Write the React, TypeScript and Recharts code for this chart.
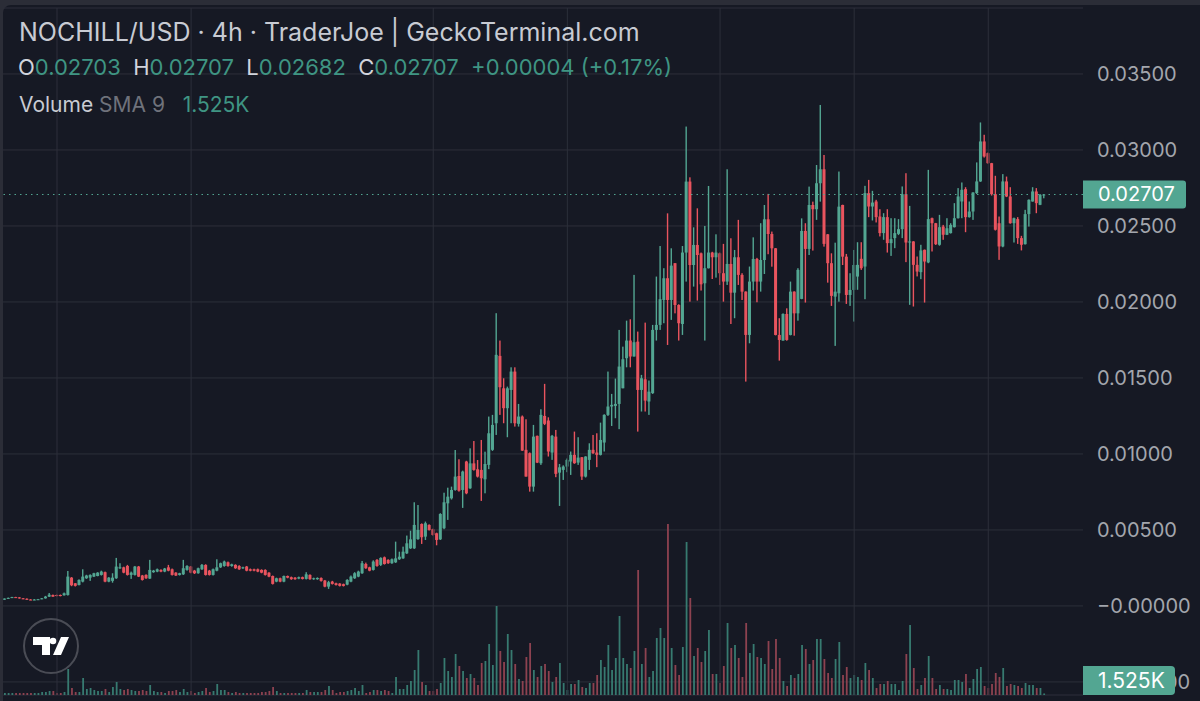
import { Bar, CartesianGrid, ComposedChart, ReferenceLine, XAxis, YAxis } from "recharts";

// prices are in units of 0.00001 USD, volumes in thousands
const opens = [
  42, 48, 53, 58, 56, 50, 47, 42, 40, 42,
  46, 50, 61, 72, 72, 72, 70, 72, 186, 149,
  138, 160, 182, 186, 193, 197, 204, 222, 160, 165,
  182, 248, 254, 263, 204, 204, 259, 200, 204, 180,
  222, 226, 237, 226, 254, 241, 219, 204, 208, 237,
  259, 232, 215, 241, 270, 232, 204, 232, 254, 263,
  287, 263, 270, 263, 248, 259, 241, 241, 241, 237,
  237, 219, 197, 160, 182, 160, 197, 189, 186, 180,
  189, 178, 204, 176, 176, 184, 167, 127, 160, 149,
  147, 143, 140, 160, 182, 193, 215, 276, 254, 237,
  303, 270, 320, 303, 281, 287, 307, 313, 346, 379,
  379, 440, 539, 456, 533, 504, 478, 438, 511, 675,
  708, 763, 855, 763, 950, 774, 938, 899, 895, 833,
  928, 1027, 1202, 1645, 1432, 1301, 1421, 1542, 1198, 1246,
  1027, 1005, 785, 1119, 939, 1250, 1220, 1009, 1114, 877,
  895, 917, 950, 994, 943, 978, 851, 961, 1027, 1009,
  994, 1075, 1257, 1312, 1316, 1329, 1432, 1630, 1746, 1641,
  1739, 1421, 1491, 1345, 1400, 1816, 1849, 2013, 2156, 2013,
  2255, 1980, 1855, 2325, 2792, 2243, 2375, 2320, 2123, 2222,
  2325, 2294, 2320, 2189, 2134, 2250, 2061, 2294, 2178, 2068,
  1783, 2134, 2283, 2134, 2276, 2544, 2447, 2353, 1783, 1746,
  1921, 1783, 2068, 1925, 2020, 2467, 2349, 2638, 2610, 2781,
  2873, 2445, 2255, 2035, 2057, 2638, 2298, 2046, 2079, 2167,
  2284, 2233, 2716, 2628, 2661, 2562, 2453, 2558, 2387, 2420,
  2448, 2479, 2709, 2391, 2398, 2244, 2196, 2343, 2260, 2551,
  2518, 2376, 2496, 2442, 2453, 2492, 2551, 2661, 2742, 2558,
  2595, 2716, 2793, 3056, 2979, 2913, 2709, 2518, 2365, 2793,
  2694, 2518, 2545, 2420, 2380, 2578, 2661, 2727, 2639, 2703,
];

const highs = [
  50, 55, 60, 60, 58, 52, 50, 45, 45, 46,
  52, 66, 85, 75, 75, 75, 88, 230, 190, 150,
  175, 241, 205, 208, 218, 222, 232, 226, 190, 215,
  316, 281, 258, 270, 226, 263, 263, 204, 208, 303,
  237, 246, 241, 250, 270, 246, 222, 218, 303, 268,
  263, 237, 252, 276, 274, 237, 246, 307, 285, 298,
  292, 278, 274, 268, 258, 263, 246, 245, 246, 241,
  241, 222, 200, 186, 186, 200, 200, 193, 190, 193,
  193, 222, 208, 186, 188, 188, 171, 165, 165, 153,
  150, 147, 176, 200, 222, 232, 296, 285, 258, 300,
  308, 320, 325, 307, 312, 423, 357, 390, 463, 495,
  682, 664, 543, 555, 537, 508, 482, 610, 745, 778,
  785, 1026, 965, 890, 955, 1037, 1085, 960, 1092, 1015,
  1246, 1257, 1926, 1746, 1498, 1443, 1570, 1570, 1329, 1253,
  1228, 1010, 1191, 1121, 1294, 1461, 1241, 1125, 1158, 934,
  925, 970, 1016, 1147, 1110, 980, 985, 1070, 1125, 1136,
  1206, 1261, 1542, 1395, 1496, 1816, 1706, 1877, 1886, 2178,
  1805, 1520, 1864, 1483, 1849, 2167, 2368, 2222, 2583, 2353,
  2255, 1985, 2368, 3154, 2820, 2491, 2616, 2325, 2500, 2763,
  2330, 2445, 2325, 2382, 2873, 2419, 2342, 2540, 2189, 2070,
  2233, 2425, 2290, 2518, 2638, 2711, 2463, 2355, 1893, 1925,
  1958, 2134, 2070, 2222, 2550, 2518, 2759, 2660, 2901, 3296,
  2967, 2447, 2320, 2390, 2858, 2640, 2316, 2189, 2342, 2393,
  2393, 2764, 2803, 2731, 2672, 2610, 2584, 2610, 2551, 2551,
  2545, 2760, 2847, 2632, 2400, 2299, 2376, 2345, 2869, 2555,
  2520, 2573, 2507, 2551, 2518, 2650, 2749, 2786, 2755, 2661,
  2722, 2918, 3181, 3100, 2983, 2915, 2830, 2562, 2841, 2825,
  2755, 2555, 2558, 2435, 2606, 2675, 2755, 2749, 2710, 2707,
];

const lows = [
  40, 46, 52, 55, 48, 45, 40, 38, 38, 40,
  44, 48, 59, 60, 63, 63, 68, 68, 130, 128,
  135, 155, 178, 165, 190, 195, 200, 156, 156, 153,
  178, 244, 215, 200, 178, 200, 190, 167, 178, 178,
  218, 222, 222, 222, 228, 200, 197, 200, 204, 232,
  215, 210, 212, 237, 200, 200, 200, 228, 250, 258,
  258, 258, 244, 237, 244, 228, 228, 228, 222, 215,
  200, 189, 141, 156, 156, 156, 182, 172, 172, 176,
  174, 174, 172, 172, 172, 160, 123, 112, 141, 134,
  128, 128, 136, 156, 178, 189, 211, 244, 228, 233,
  258, 263, 272, 277, 277, 283, 303, 310, 342, 375,
  375, 435, 408, 434, 496, 463, 399, 434, 505, 566,
  700, 758, 752, 645, 735, 770, 890, 845, 691, 741,
  900, 1020, 1125, 1257, 1202, 1110, 1202, 1180, 1180, 1020,
  851, 752, 752, 940, 928, 1190, 983, 961, 847, 658,
  829, 880, 862, 935, 928, 829, 845, 895, 1000, 913,
  990, 1016, 1250, 1184, 1235, 1163, 1432, 1570, 1570, 1641,
  1147, 1279, 1279, 1257, 1395, 1746, 1816, 1860, 1717, 1882,
  1925, 1746, 1783, 2134, 2002, 2101, 2009, 2075, 1746, 2220,
  2151, 2160, 2112, 2002, 2112, 1855, 1893, 2112, 2013, 1476,
  1728, 2075, 1998, 2068, 2184, 2314, 2232, 1780, 1614, 1745,
  1745, 1780, 1778, 1877, 2018, 1996, 2309, 2338, 2540, 2660,
  2364, 2127, 1974, 1711, 2002, 2243, 1987, 1974, 1871, 2080,
  2211, 2018, 2558, 2536, 2523, 2431, 2409, 2325, 2303, 2354,
  2440, 2420, 2262, 1981, 1970, 2168, 2150, 1996, 2255, 2332,
  2375, 2370, 2409, 2440, 2450, 2490, 2549, 2551, 2459, 2555,
  2540, 2710, 2790, 2950, 2910, 2700, 2470, 2277, 2360, 2690,
  2515, 2391, 2382, 2339, 2378, 2496, 2660, 2584, 2637, 2682,
];

const closes = [
  48, 53, 58, 56, 50, 47, 42, 40, 42, 44,
  50, 61, 74, 61, 65, 65, 83, 193, 136, 132,
  171, 193, 200, 204, 215, 219, 226, 160, 186, 186,
  259, 254, 219, 204, 219, 259, 193, 171, 182, 237,
  232, 241, 226, 246, 232, 204, 200, 215, 248, 263,
  219, 215, 248, 270, 204, 204, 241, 254, 281, 292,
  263, 274, 248, 241, 254, 232, 232, 232, 226, 219,
  204, 193, 145, 182, 160, 197, 186, 176, 176, 189,
  178, 208, 176, 182, 184, 165, 127, 156, 145, 138,
  132, 132, 171, 193, 215, 226, 281, 248, 232, 292,
  263, 316, 276, 281, 307, 313, 324, 357, 412, 438,
  533, 500, 452, 544, 500, 467, 434, 605, 682, 719,
  763, 851, 758, 884, 741, 938, 895, 851, 840, 934,
  1136, 1191, 1652, 1439, 1301, 1432, 1542, 1202, 1246, 1022,
  851, 785, 1114, 943, 1257, 1198, 1016, 1119, 869, 912,
  917, 961, 994, 939, 976, 851, 983, 1027, 1005, 994,
  1092, 1257, 1312, 1323, 1329, 1575, 1623, 1746, 1641, 1735,
  1421, 1498, 1351, 1410, 1816, 1849, 2018, 2156, 2013, 2239,
  1980, 1860, 2325, 2792, 2243, 2375, 2309, 2116, 2222, 2325,
  2294, 2325, 2189, 2134, 2250, 2061, 2294, 2178, 2068, 1783,
  2134, 2283, 2134, 2276, 2544, 2447, 2353, 1783, 1750, 1921,
  1750, 2068, 1925, 2211, 2467, 2349, 2638, 2610, 2781, 2873,
  2382, 2255, 2040, 2068, 2627, 2298, 2046, 2079, 2243, 2244,
  2222, 2716, 2628, 2654, 2558, 2453, 2558, 2387, 2413, 2453,
  2479, 2709, 2391, 2398, 2244, 2200, 2339, 2266, 2545, 2518,
  2380, 2492, 2442, 2485, 2507, 2551, 2694, 2738, 2558, 2595,
  2720, 2793, 3056, 2957, 2913, 2709, 2475, 2365, 2793, 2694,
  2518, 2551, 2420, 2376, 2578, 2672, 2727, 2650, 2705, 2707,
];

const volumes = [
  2, 2, 2, 2, 2, 2, 2, 2, 2, 2,
  3, 3, 4, 4, 2, 2, 3, 26, 7, 3,
  3, 17, 6, 7, 5, 4, 4, 6, 3, 8,
  13, 6, 5, 6, 5, 4, 4, 5, 4, 10,
  4, 3, 3, 2, 4, 4, 5, 3, 6, 3,
  4, 2, 3, 4, 7, 3, 4, 11, 5, 5,
  3, 2, 3, 2, 2, 2, 2, 2, 2, 3,
  3, 4, 8, 4, 2, 2, 2, 2, 2, 2,
  2, 5, 3, 3, 3, 3, 5, 9, 5, 2,
  3, 3, 4, 5, 7, 4, 10, 2, 3, 5,
  5, 4, 5, 4, 2, 18, 6, 6, 10, 14,
  25, 45, 13, 10, 4, 4, 6, 12, 37, 24,
  18, 41, 29, 24, 17, 21, 17, 10, 32, 34,
  51, 30, 89, 44, 33, 61, 45, 31, 16, 14,
  38, 52, 25, 18, 29, 31, 24, 13, 18, 32,
  12, 5, 11, 11, 15, 8, 7, 12, 12, 20,
  35, 28, 50, 25, 37, 79, 37, 31, 27, 44,
  125, 31, 47, 18, 24, 57, 67, 57, 171, 47,
  30, 20, 48, 153, 97, 39, 47, 33, 44, 65,
  21, 21, 12, 29, 72, 47, 50, 37, 18, 72,
  42, 51, 38, 37, 31, 54, 26, 56, 37, 14,
  9, 20, 17, 21, 50, 46, 31, 35, 56, 56,
  36, 22, 17, 36, 53, 20, 28, 17, 20, 18,
  15, 32, 25, 17, 7, 11, 11, 14, 11, 11,
  5, 14, 41, 70, 27, 6, 10, 17, 39, 17,
  6, 10, 6, 6, 5, 15, 15, 13, 21, 7,
  16, 26, 28, 9, 7, 11, 22, 18, 27, 9,
  11, 10, 9, 7, 12, 10, 10, 7, 7, 1.525,
];

const priceTicks = [-500, 0, 500, 1000, 1500, 2000, 2500, 3000, 3500];
const priceTickLabels = ["−0.00500", "−0.00000", "0.00500", "0.01000", "0.01500", "0.02000", "0.02500", "0.03000", "0.03500"];
const gridCandles = [14, 50, 115, 151, 192, 228, 264];
const lastPrice = 2707;

const UP = "#53a692";
const DOWN = "#e9545e";
const UP_VOL = "#377a70";
const DOWN_VOL = "#8d4250";
const GRID = "#2c2f3a";
const FONT = "Inter, sans-serif";

const candles = opens.map((open, i) => ({
  index: i,
  open,
  high: highs[i],
  low: lows[i],
  close: closes[i],
  volume: volumes[i],
}));

function Candle(props: any) {
  const { x, y, width, height, payload } = props;
  const top = Math.min(y, y + height);
  const span = Math.abs(height);
  const pxPerUnit = span / (payload.high - payload.low);
  const up = payload.close >= payload.open;
  const bodyTop = top + (payload.high - Math.max(payload.open, payload.close)) * pxPerUnit;
  const bodyH = Math.max(1, Math.abs(payload.close - payload.open) * pxPerUnit);
  const color = up ? UP : DOWN;
  return (
    <g>
      <rect x={x + width / 2 - 0.7} y={top} width={1.4} height={span} fill={color} />
      <rect x={x} y={bodyTop} width={width} height={bodyH} fill={color} />
    </g>
  );
}

function VolumeBar(props: any) {
  const { x, y, width, height, payload } = props;
  const up = payload.close >= payload.open;
  return <rect x={x} y={y} width={width} height={Math.max(height, 0.8)} fill={up ? UP_VOL : DOWN_VOL} />;
}

function PriceBadge(props: any) {
  const { viewBox } = props;
  const left = viewBox.x + viewBox.width;
  return (
    <g>
      <path
        d={`M${left} ${viewBox.y - 14}h100a3 3 0 0 1 3 3v22a3 3 0 0 1 -3 3h-100z`}
        fill={UP}
      />
      <text x={left + 15} y={viewBox.y + 7} fill="#fff" fontFamily={FONT} fontSize={20}>
        0.02707
      </text>
    </g>
  );
}

function PriceTick(props: any) {
  const { x, y, payload } = props;
  return (
    <text x={x - 7} y={y + 7} fill="#a3a6ad" fontFamily={FONT} fontSize={20}>
      {priceTickLabels[priceTicks.indexOf(payload.value)]}
    </text>
  );
}

const label = { position: "absolute" as const, whiteSpace: "pre" as const, fontFamily: FONT };

export default function App() {
  return (
    <div style={{ position: "fixed", left: 0, top: 0, width: 1200, height: 701, background: "#2b2d37", overflow: "hidden" }}>
      <div style={{ position: "absolute", left: 3, top: 5, width: 1197, height: 696, background: "#161924", borderTopLeftRadius: 8 }} />
      <div style={{ position: "absolute", left: 0, top: 0 }}>
        <ComposedChart
          width={1200}
          height={701}
          data={candles}
          margin={{ top: 8, right: 0, bottom: 6, left: 3 }}
          barCategoryGap={0}
        >
          <CartesianGrid vertical={false} stroke={GRID} xAxisId="price" yAxisId="price" />
          <XAxis
            xAxisId="price"
            dataKey="index"
            height={0}
            tick={false}
            tickLine={false}
            axisLine={{ stroke: GRID }}
            padding={{ left: 0, right: 37 }}
          />
          <XAxis xAxisId="vol" dataKey="index" hide padding={{ left: 0, right: 37 }} />
          <YAxis
            yAxisId="price"
            orientation="right"
            width={117}
            domain={[-586, 3934]}
            ticks={priceTicks}
            interval={0}
            tick={<PriceTick />}
            tickLine={false}
            axisLine={false}
            tickMargin={15}
          />
          <YAxis yAxisId="vol" hide domain={[0, 687]} />
          {gridCandles.map((c) => (
            <ReferenceLine key={c} x={c} xAxisId="price" yAxisId="price" stroke={GRID} />
          ))}
          <Bar
            xAxisId="vol"
            yAxisId="vol"
            dataKey="volume"
            barSize={1.8}
            shape={<VolumeBar />}
            isAnimationActive={false}
          />
          <Bar
            xAxisId="price"
            yAxisId="price"
            dataKey={(d: any) => [d.low, d.high]}
            barSize={3}
            shape={<Candle />}
            isAnimationActive={false}
          />
          <ReferenceLine
            y={lastPrice}
            xAxisId="price"
            yAxisId="price"
            stroke={UP}
            strokeDasharray="1.5 4"
            label={<PriceBadge />}
          />
        </ComposedChart>
      </div>

      <div style={{ ...label, left: 19, top: 17, fontSize: 25, color: "#c8cbd3" }}>
        NOCHILL/USD · 4h · TraderJoe | GeckoTerminal.com
      </div>
      <div style={{ ...label, left: 18, top: 54, fontSize: 22, color: "#3f9583" }}>
        <span style={{ color: "#d1d4dc" }}>O</span>0.02703{"  "}
        <span style={{ color: "#d1d4dc" }}>H</span>0.02707{"  "}
        <span style={{ color: "#d1d4dc" }}>L</span>0.02682{"  "}
        <span style={{ color: "#d1d4dc" }}>C</span>0.02707{"  "}+0.00004 (+0.17%)
      </div>
      <div style={{ ...label, left: 19, top: 92, fontSize: 21, color: "#c8cbd3" }}>
        Volume <span style={{ color: "#6f727b" }}>SMA 9</span>
        {"   "}
        <span style={{ color: "#3f9583" }}>1.525K</span>
      </div>

      <div
        style={{
          ...label,
          left: 1083,
          top: 666,
          width: 77,
          height: 29,
          paddingLeft: 15,
          lineHeight: "29px",
          fontSize: 21,
          color: "#fff",
          background: UP,
          borderRadius: "0 4px 4px 0",
        }}
      >
        1.525K
      </div>

      <svg style={{ position: "absolute", left: 22, top: 617 }} width={58} height={58} viewBox="0 0 58 58">
        <circle cx={29} cy={29} r={27} fill="none" stroke="#4a4c55" strokeWidth={2} />
        <path d="M11 20h17v18h-8v-10h-9zM47 20h-8l-8 18h8z" fill="#fff" />
        <circle cx={31} cy={24} r={3.3} fill="#fff" />
      </svg>
    </div>
  );
}
